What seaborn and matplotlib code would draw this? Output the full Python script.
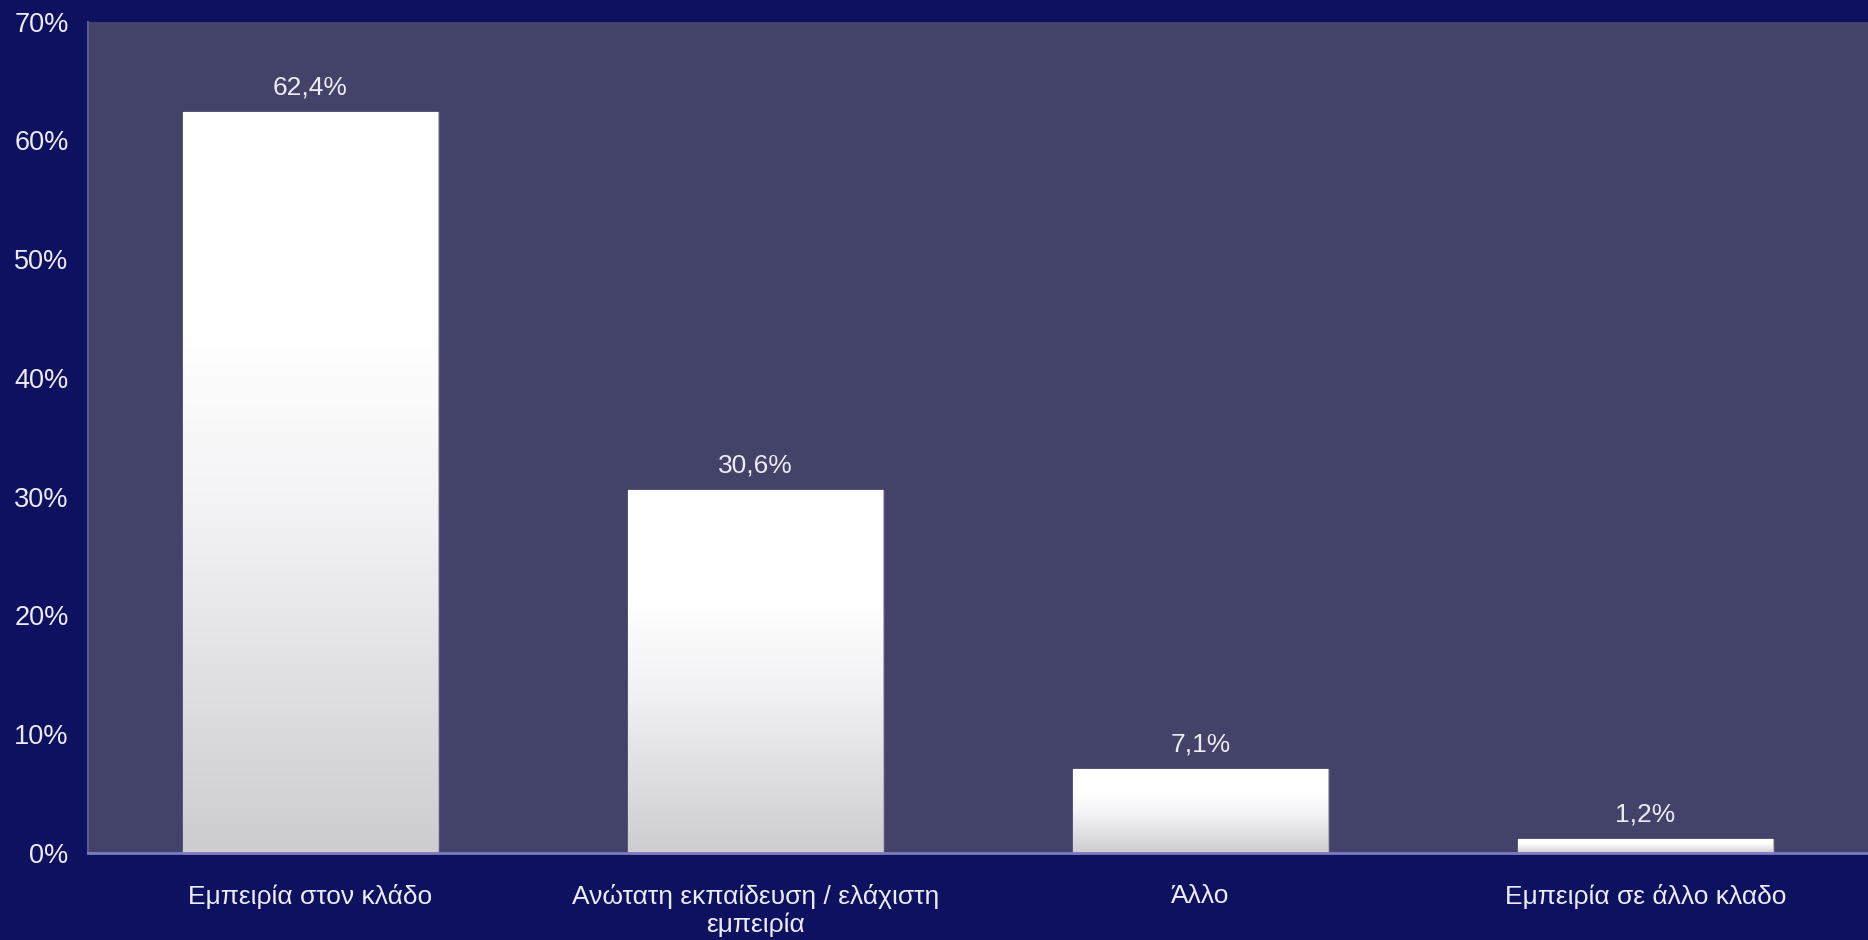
import numpy as np
import pandas as pd
import matplotlib
matplotlib.use("Agg")
import matplotlib.pyplot as plt
import seaborn as sns
from matplotlib.colors import LinearSegmentedColormap

categories = ["Εμπειρία στον κλάδο", "Ανώτατη εκπαίδευση / ελάχιστη\nεμπειρία", "Άλλο", "Εμπειρία σε άλλο κλαδο"]
values = [62.4, 30.6, 7.1, 1.2]
value_labels = ["62,4%", "30,6%", "7,1%", "1,2%"]
yticks = [0, 10, 20, 30, 40, 50, 60, 70]
ytick_labels = ["0%", "10%", "20%", "30%", "40%", "50%", "60%", "70%"]

sns.set_theme(style="white")
plt.rcParams['font.family'] = ['Liberation Sans', 'DejaVu Sans']

BG = "#0d1160"
PLOT_BG = "#434268"
TXT = "#ececf6"

fig = plt.figure(figsize=(18.68, 9.40), dpi=100, facecolor=BG)
ax = fig.add_axes([0.0471, 0.0926, 0.9529, 0.8845])
ax.set_facecolor(PLOT_BG)

df = pd.DataFrame({"cat": categories, "val": values})
sns.barplot(data=df, x="cat", y="val", ax=ax, color="white", width=0.573,
            edgecolor="#b0b0c0", linewidth=1.0, saturation=1)

cmap = LinearSegmentedColormap.from_list(
    "g", [(0.0, "#cdcdcf"), (0.45, "#f2f2f4"), (0.7, "#ffffff"), (1.0, "#ffffff")])
grad = np.linspace(0, 1, 256).reshape(-1, 1)
for p, v, lab in zip(ax.patches, values, value_labels):
    x0 = p.get_x(); w = p.get_width(); h = p.get_height()
    im = ax.imshow(grad, cmap=cmap, aspect="auto", origin="lower",
                   extent=[x0, x0 + w, 0, h], zorder=p.get_zorder() + 0.1)
    im.set_clip_path(p)
    ax.text(x0 + w / 2, h + 1.0, lab, ha="center", va="bottom",
            color=TXT, fontsize=19)

ax.set_xlim(-0.5, 3.5)
ax.set_ylim(0, 70)
ax.set_yticks(yticks)
ax.set_yticklabels(ytick_labels)
ax.tick_params(axis="y", colors=TXT, labelsize=19.5, length=0, pad=14)
ax.tick_params(axis="x", colors=TXT, labelsize=19, length=0, pad=22)
for t in ax.get_yticklabels() + ax.get_xticklabels():
    t.set_color(TXT)
ax.set_xlabel("")
ax.set_ylabel("")
for s in ["top", "right"]:
    ax.spines[s].set_visible(False)
ax.spines["bottom"].set_color("#7d7cc0")
ax.spines["bottom"].set_linewidth(2)
ax.spines["left"].set_color("#5a5a90")
ax.spines["left"].set_linewidth(1.5)
ax.grid(False)

fig.savefig("out.png", dpi=100, facecolor=BG)
